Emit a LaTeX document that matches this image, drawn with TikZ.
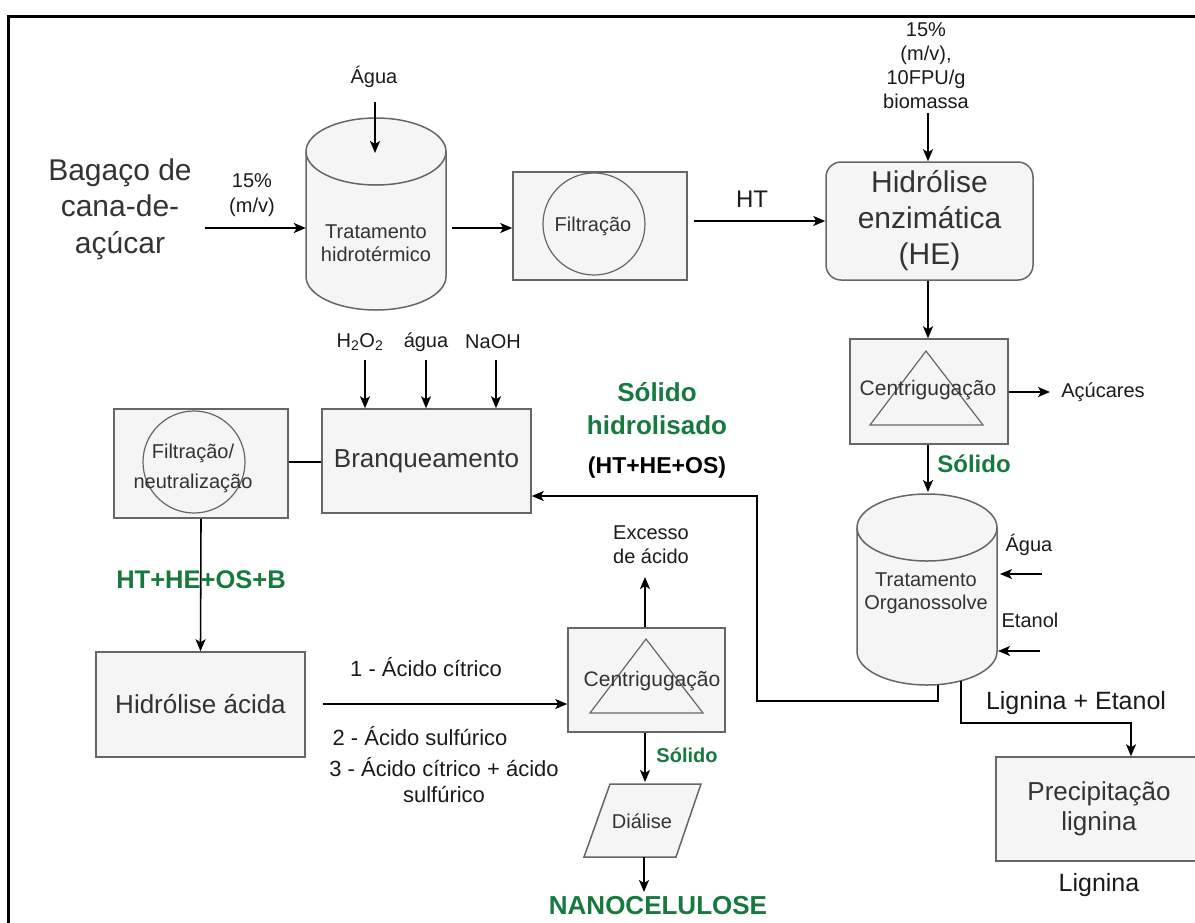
\documentclass[tikz,border=0pt]{standalone}
\usepackage{fontspec}
\setmainfont{Liberation Sans}
\usetikzlibrary{arrows.meta,calc}
\definecolor{gr}{HTML}{16793E}
\definecolor{bl}{HTML}{666666}
\definecolor{bf}{HTML}{F5F5F5}
\definecolor{tx}{HTML}{333333}
\definecolor{lb}{HTML}{1A1A1A}
\begin{document}
\begin{tikzpicture}[x=1pt,y=-1pt,
  box/.style={draw=bl, fill=bf, line width=1.5pt, text=tx, inner sep=0pt, align=center},
  hid/.style={inner sep=0pt},
  arr/.style={-{Stealth[length=12pt,width=10pt,inset=3pt]}, line width=1.6pt},
  ln/.style={line width=1.6pt},
  shp/.style={draw=bl, line width=1.2pt},
  lab/.style={text=lb, align=center, inner sep=0pt},
  fa/.style={font=\fontsize{20}{24}\selectfont},
  fb/.style={font=\fontsize{22}{26}\selectfont},
  fc/.style={font=\fontsize{26}{30}\selectfont},
  fd/.style={font=\fontsize{30}{36}\selectfont},
  gb/.style={text=gr, font=\bfseries\fontsize{26}{33}\selectfont, align=center, inner sep=0pt},
]
\useasboundingbox (0,0) rectangle (1195,922);

% outer frame
\draw[line width=3pt] (8,940) -- (8,16) -- (1215,16);

% ---------- Bagaço ----------
\node[lab, text=tx, font=\fontsize{30}{36.5}\selectfont] (bag) at (120,209) {Bagaço de\\cana-de-\\açúcar};

% ---------- cylinder: hydrothermal ----------
\path[fill=bf] (306,151.5) -- (306,276.5) arc[start angle=180,end angle=360,x radius=70pt,y radius=33.5pt] -- (446,151.5) arc[start angle=0,end angle=180,x radius=70pt,y radius=33.5pt] -- cycle;
\draw[bl, line width=1.5pt] (306,151.5) -- (306,276.5) arc[start angle=180,end angle=360,x radius=70pt,y radius=33.5pt] -- (446,151.5) arc[start angle=0,end angle=180,x radius=70pt,y radius=33.5pt] -- cycle;
\draw[bl, line width=1.5pt] (306,151.5) arc[start angle=180,end angle=360,x radius=70pt,y radius=33.5pt];
\node[hid, minimum width=140pt, minimum height=192pt] (ht) at (376,214) {};
\node[lab, text=tx, font=\fontsize{20}{23}\selectfont] at (376,243.5) {Tratamento\\hidrotérmico};

\node[lab, fa] (agua1) at (374,77) {Água};
\coordinate (a1s) at (375,102);
\coordinate (a1e) at (375,153);
\draw[arr] (a1s) -- (a1e);

% arrow bagaço -> HT
\coordinate (c1) at (205,228);
\draw[arr] (c1) -- (c1 -| ht.west);
\node[lab, font=\fontsize{20}{25}\selectfont] (pct1) at (252,195.5) {15\%\\(m/v)};

% ---------- Filtração ----------
\node[box, minimum width=174pt, minimum height=108pt] (filt) at (600,226) {};
\draw[shp] (594,224) circle[radius=51pt];
\node[lab, text=tx, fa] at (593,226) {Filtração};
\draw[arr] ([xshift=6pt]ht.east |- c1) -- (c1 -| filt.west);

% ---------- Hidrólise enzimática ----------
\node[box, rounded corners=15pt, minimum width=207pt, minimum height=118pt, fd] (he) at (929.5,221) {Hidrólise\\enzimática\\(HE)};
\draw[arr] ([xshift=6pt]filt.east |- he.west) -- (he.west);
\node[lab, font=\fontsize{24}{28}\selectfont] (htl) at (752,199) {HT};
\node[lab, fa] (enz) at (926,66) {15\%\\(m/v),\\10FPU/g\\biomassa};
\coordinate (e1) at (928,113);
\draw[arr] (e1) -- (e1 |- he.north);

% ---------- Centrifugação 1 ----------
\node[box, minimum width=158pt, minimum height=105pt] (cent1) at (929,391.5) {};
\draw[shp] (926,351) -- (983,425) -- (870,425) -- cycle;
\node[lab, text=tx, font=\fontsize{21}{24}\selectfont] at (928,390) {Centrigugação};
\coordinate (x1) at (928,0);
\draw[arr] (he.south -| x1) -- (cent1.north -| x1);
\node[lab, fa] (acu) at (1103,392) {Açúcares};
\coordinate (y1) at (0,392);
\coordinate (acue) at (1050,392);
\draw[arr] (cent1.east |- y1) -- (acue);

% ---------- cylinder: Organossolve ----------
\path[fill=bf] (857,527.5) -- (857,651.5) arc[start angle=180,end angle=360,x radius=70pt,y radius=33.5pt] -- (997,527.5) arc[start angle=0,end angle=180,x radius=70pt,y radius=33.5pt] -- cycle;
\draw[bl, line width=1.5pt] (857,527.5) -- (857,651.5) arc[start angle=180,end angle=360,x radius=70pt,y radius=33.5pt] -- (997,527.5) arc[start angle=0,end angle=180,x radius=70pt,y radius=33.5pt] -- cycle;
\draw[bl, line width=1.5pt] (857,527.5) arc[start angle=180,end angle=360,x radius=70pt,y radius=33.5pt];
\node[hid, minimum width=140pt, minimum height=191pt] (os) at (927,589.5) {};
\node[lab, text=tx, font=\fontsize{20}{23}\selectfont] at (926,593.5) {Tratamento\\Organossolve};
\coordinate (oin) at (928,492);
\draw[arr] (cent1.south -| x1) -- (oin);
\node[gb, font=\bfseries\fontsize{24}{28}\selectfont] (sol1) at (974,464) {Sólido};

\node[lab, fa] (agua2) at (1029,545) {Água};
\coordinate (a2) at (1042,574);
\coordinate (a2e) at (1000,574);
\draw[arr] (a2) -- (a2e);
\node[lab, fa] (etan) at (1030,620) {Etanol};
\coordinate (a3) at (1040,651);
\coordinate (a3e) at (998,651);
\draw[arr] (a3) -- (a3e);

% ---------- Precipitação ----------
\node[box, minimum width=209pt, minimum height=104pt] (prec) at (1100.5,809) {};
\node[lab, text=tx, fc] at (1099,809) {Precipitação\\lignina};
\node[lab, font=\fontsize{25}{29}\selectfont] (lig) at (1099,885) {Lignina};
\coordinate (o2) at (961,681);
\coordinate (x2) at (1131,723);
\draw[arr] (o2) -- (961,723) -- (x2) -- (x2 |- prec.north);
\node[lab, font=\fontsize{25}{29}\selectfont] (lige) at (1076,703) {Lignina + Etanol};

% ---------- Branqueamento ----------
\node[box, minimum width=209pt, minimum height=104pt, fc] (branq) at (426.5,461) {Branqueamento};
\coordinate (o1) at (938,684.5);
\coordinate (y2) at (0,496);
\draw[arr] (o1) -- (938,701) -- (757,701) -- (757,496) -- (branq.east |- y2);
\node[gb] (solh) at (657,408.5) {Sólido\\hidrolisado};
\node[lab, text=black, font=\bfseries\fontsize{23}{27}\selectfont] (htheos) at (657,468) {(HT+HE+OS)};

\node[lab, fa] (h2o2) at (360,342) {H\textsubscript{2}O\textsubscript{2}};
\node[lab, fa] (aguab) at (426,342) {água};
\node[lab, fa] (naoh) at (493,342) {NaOH};
\coordinate (b1) at (365,360);
\coordinate (b2) at (426,360);
\coordinate (b3) at (496,360);
\draw[arr] (b1) -- (b1 |- branq.north);
\draw[arr] (b2) -- (b2 |- branq.north);
\draw[arr] (b3) -- (b3 |- branq.north);

% ---------- Filtração / neutralização ----------
\node[box, minimum width=174pt, minimum height=109pt] (fn) at (201,463.5) {};
\draw[shp] (194,462) circle[radius=51pt];
\node[lab, text=tx, font=\fontsize{20}{30}\selectfont] at (193,468) {Filtração/\\neutralização};
\coordinate (y3) at (0,462);
\draw[ln] (fn.east |- y3) -- (branq.west |- y3);

% ---------- Hidrólise ácida ----------
\node[box, minimum width=209pt, minimum height=105pt, fc] (ha) at (200.5,704.5) {Hidrólise ácida};
\draw[arr] (fn.south) -- (ha.north);
\node[gb, font=\bfseries\fontsize{25.5}{30}\selectfont] (hhb) at (201,580) {HT+HE+OS+B};

% ---------- Centrifugação 2 ----------
\node[box, minimum width=157pt, minimum height=104pt] (cent2) at (646.5,680) {};
\draw[shp] (646,639) -- (703,713) -- (590,713) -- cycle;
\node[lab, text=tx, font=\fontsize{21}{24}\selectfont] at (652,681) {Centrigugação};
\coordinate (y4) at (0,704);
\draw[arr] ([xshift=17pt]ha.east |- y4) -- (cent2.west |- y4);
\node[lab, fb] (ac1) at (426,667) {1 - Ácido cítrico};
\node[lab, fb] (ac2) at (420,736) {2 - Ácido sulfúrico};
\node[lab, fb] (ac3) at (444,780) {3 - Ácido cítrico + ácido\\sulfúrico};

\node[lab, fa] (exc) at (651,545) {Excesso\\de ácido};
\coordinate (x3) at (645,0);
\coordinate (exe) at (645,577);
\draw[arr] (cent2.north -| x3) -- (exe);

% ---------- Diálise ----------
\path[fill=bf, draw=bl, line width=1.5pt] (610,784) -- (701,784) -- (676,857) -- (584,857) -- cycle;
\node[hid, minimum width=90pt, minimum height=73pt] (dial) at (642.5,820.5) {};
\node[lab, text=tx, fa] at (642,821) {Diálise};
\coordinate (dte) at (645,782);
\draw[arr] (cent2.south -| x3) -- (dte);
\node[gb, font=\bfseries\fontsize{20}{24}\selectfont] (sol2) at (687,755) {Sólido};
\coordinate (x4) at (644,0);
\coordinate (nte) at (644,892);
\draw[arr] (dial.south -| x4) -- (nte);
\node[gb] (nano) at (658,906) {NANOCELULOSE};
\end{tikzpicture}
\end{document}
